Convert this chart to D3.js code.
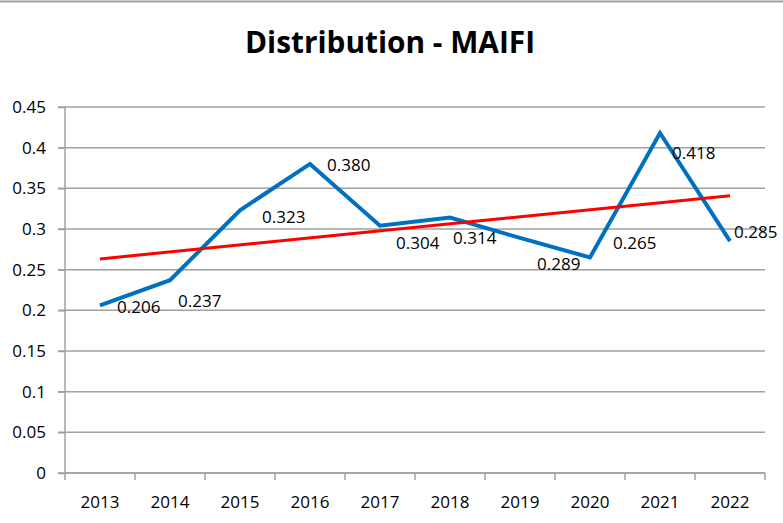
<!DOCTYPE html>
<html>
<head>
<meta charset="utf-8">
<script src="https://cdn.jsdelivr.net/npm/d3@7"></script>
<style>
  body { margin: 0; background: #fff; }
  text { font-family: "Open Sans", sans-serif; fill: #000; }
</style>
</head>
<body>
<div id="chart"></div>
<script>
// data
var years = ["2013", "2014", "2015", "2016", "2017", "2018", "2019", "2020", "2021", "2022"];
var maifi = [0.206, 0.237, 0.323, 0.380, 0.304, 0.314, 0.289, 0.265, 0.418, 0.285];
var yTicks = [0, 0.05, 0.1, 0.15, 0.2, 0.25, 0.3, 0.35, 0.4, 0.45];

// label nudges (left edge dx, vertical centre dy), placed by hand in the original
var labelNudge = [[17, 2], [8, 21], [22, 7], [17, 1], [16, 17], [3, 20], [17, 26], [23, -14], [12, 20], [4, -9]];

var svgWidth = 783;
var svgHeight = 523;
var margin = { top: 107, right: 18, bottom: 50, left: 65 };
var chartWidth = svgWidth - margin.left - margin.right;
var chartHeight = svgHeight - margin.top - margin.bottom;

var svg = d3.select("#chart")
  .append("svg")
  .attr("width", svgWidth)
  .attr("height", svgHeight);

// top border of the chart frame
svg.append("line")
  .attr("x1", 0).attr("x2", svgWidth)
  .attr("y1", 1.5).attr("y2", 1.5)
  .attr("stroke", "#a0a0a0")
  .attr("stroke-width", 2);

svg.append("text")
  .attr("x", 390)
  .attr("y", 53)
  .attr("text-anchor", "middle")
  .attr("font-size", "30px")
  .attr("font-weight", "bold")
  .attr("textLength", 290)
  .attr("lengthAdjust", "spacingAndGlyphs")
  .text("Distribution - MAIFI");

var chartGroup = svg.append("g")
  .attr("transform", `translate(${margin.left}, ${margin.top})`);

var x = d3.scaleBand()
  .domain(years)
  .range([0, chartWidth]);

var y = d3.scaleLinear()
  .domain([0, 0.45])
  .range([chartHeight, 0]);

// gridlines
chartGroup.append("g")
  .selectAll("line")
  .data(yTicks)
  .enter()
  .append("line")
  .attr("x1", -7)
  .attr("x2", chartWidth)
  .attr("y1", d => y(d))
  .attr("y2", d => y(d))
  .attr("stroke", "#a0a0a0")
  .attr("stroke-width", 1.5);

// y axis
var leftAxis = d3.axisLeft(y)
  .tickValues(yTicks)
  .tickSize(7)
  .tickFormat(d => d3.format("")(+d.toFixed(2)));

var yAxisG = chartGroup.append("g").call(leftAxis);
yAxisG.select(".domain").attr("stroke", "#a0a0a0").attr("stroke-width", 1.5)
  .attr("d", `M0,0V${chartHeight}`);
yAxisG.selectAll(".tick line").attr("stroke", "#a0a0a0").attr("stroke-width", 1.5);
yAxisG.selectAll(".tick text")
  .attr("x", -19)
  .attr("font-size", "17px")
  .attr("font-family", "Open Sans, sans-serif")
  .attr("fill", "#000");

// x axis with ticks on the band edges
var xAxisG = chartGroup.append("g")
  .attr("transform", `translate(0, ${chartHeight})`);

xAxisG.append("line")
  .attr("x1", 0).attr("x2", chartWidth)
  .attr("stroke", "#a0a0a0")
  .attr("stroke-width", 1.5);

xAxisG.selectAll(".edge")
  .data(years.concat(["end"]))
  .enter()
  .append("line")
  .attr("class", "edge")
  .attr("x1", (d, i) => i * x.bandwidth())
  .attr("x2", (d, i) => i * x.bandwidth())
  .attr("y1", 0)
  .attr("y2", 7)
  .attr("stroke", "#a0a0a0")
  .attr("stroke-width", 1.5);

xAxisG.selectAll(".yr")
  .data(years)
  .enter()
  .append("text")
  .attr("class", "yr")
  .attr("x", d => x(d) + x.bandwidth() / 2)
  .attr("y", 35)
  .attr("text-anchor", "middle")
  .attr("font-size", "17px")
  .text(d => d);

var cx = i => x(years[i]) + x.bandwidth() / 2;

// linear trend fitted to the series
var n = maifi.length;
var mx = d3.mean(maifi, (d, i) => i);
var my = d3.mean(maifi);
var slope = d3.sum(maifi, (d, i) => (i - mx) * (d - my)) / d3.sum(maifi, (d, i) => (i - mx) * (i - mx));
var intercept = my - slope * mx;
var trend = [0, n - 1].map(i => [cx(i), y(intercept + slope * i)]);

var line = d3.line();

chartGroup.append("path")
  .datum(maifi.map((d, i) => [cx(i), y(d)]))
  .attr("d", line)
  .attr("fill", "none")
  .attr("stroke", "#0070C0")
  .attr("stroke-width", 4)
  .attr("stroke-linejoin", "miter");

chartGroup.append("path")
  .datum(trend)
  .attr("d", line)
  .attr("fill", "none")
  .attr("stroke", "#FF0000")
  .attr("stroke-width", 3);

// data labels
chartGroup.selectAll(".lbl")
  .data(maifi)
  .enter()
  .append("text")
  .attr("class", "lbl")
  .attr("x", (d, i) => cx(i) + labelNudge[i][0])
  .attr("y", (d, i) => y(d) + labelNudge[i][1])
  .attr("dy", "0.35em")
  .attr("font-size", "17px")
  .text(d => d.toFixed(3));
</script>
</body>
</html>
